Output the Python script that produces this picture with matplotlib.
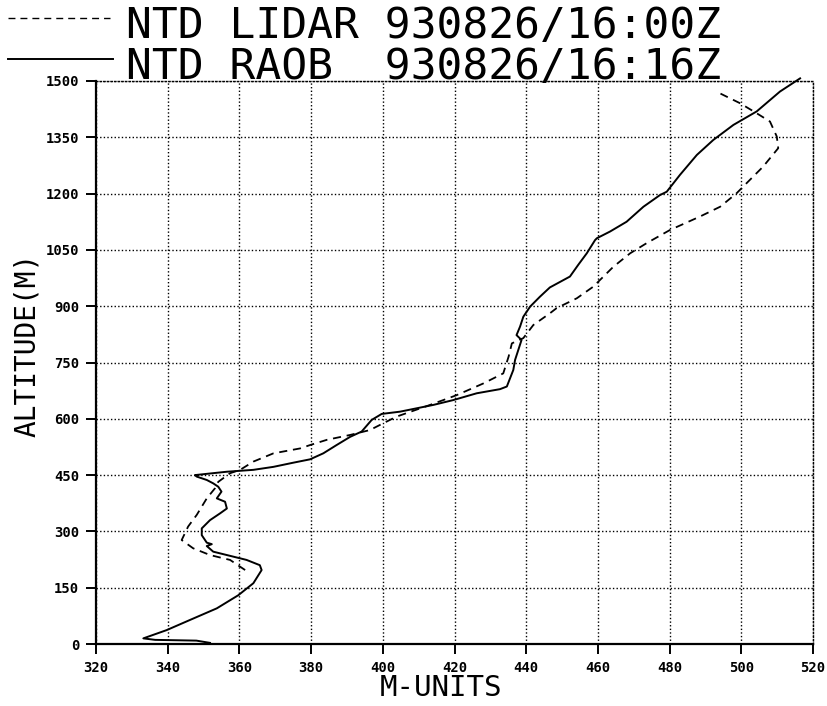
import matplotlib
matplotlib.use("Agg")
import matplotlib.pyplot as plt
from matplotlib.lines import Line2D

# RAOB (solid) profile: M-units vs altitude (m)
raob_m = [351.8, 348.0, 336.5, 333.2, 339.7, 346.2, 353.7, 359.7, 363.9, 366.2, 365.7, 362.0,
          356.5, 352.7, 350.9, 352.3, 350.9, 349.5, 349.5, 351.8, 354.6, 356.5, 356.0, 353.7,
          355.0, 354.1, 352.7, 350.9, 348.1, 347.6, 356.5, 363.9, 369.5, 375.0, 379.7, 383.4,
          387.1, 390.9, 394.1, 396.9, 399.7, 404.8, 414.1, 419.7, 426.2, 432.7, 434.6, 436.4,
          436.9, 438.7, 437.3, 438.3, 439.2, 441.1, 443.8, 446.6, 452.2, 454.5, 456.9, 459.2,
          459.7, 463.4, 468.0, 472.7, 477.3, 479.2, 482.9, 487.6, 492.2, 497.8, 504.3, 510.8,
          516.4]
raob_alt = [3, 9, 11, 15, 37, 64, 95, 130, 162, 197, 210, 224,
            237, 246, 261, 266, 270, 290, 308, 330, 348, 361, 379, 388,
            406, 419, 428, 437, 446, 450, 459, 464, 472, 483, 492, 508,
            530, 552, 566, 597, 613, 619, 637, 650, 668, 679, 686, 730,
            757, 810, 823, 846, 872, 899, 925, 950, 979, 1010, 1041, 1076,
            1081, 1099, 1125, 1165, 1196, 1205, 1250, 1303, 1343, 1383, 1419, 1472,
            1507]

# LIDAR (dashed) profile
lidar_m = [361.6, 357.4, 351.8, 347.1, 343.9, 345.7, 348.1, 350.9, 353.2, 354.1, 357.4, 360.2,
           363.9, 369.5, 376.9, 379.7, 384.4, 390.9, 396.4, 400.1, 403.9, 413.2, 420.6, 428.0,
           433.6, 435.1, 436.0, 439.2, 442.0, 446.6, 448.5, 454.1, 458.7, 464.3, 469.0, 473.6,
           480.1, 488.5, 494.1, 498.7, 501.5, 506.1, 510.3, 509.9, 508.0, 504.3, 499.6, 493.0]
lidar_alt = [197, 224, 237, 255, 277, 313, 344, 388, 415, 432, 455, 464,
             486, 508, 521, 530, 544, 557, 570, 588, 606, 637, 663, 694,
             721, 766, 801, 815, 850, 881, 895, 921, 952, 1005, 1041, 1068,
             1103, 1139, 1165, 1201, 1228, 1272, 1321, 1352, 1392, 1414, 1441, 1472]

xticks = list(range(320, 521, 20))
yticks = list(range(0, 1501, 150))
title_lidar = "NTD LIDAR 930826/16:00Z"
title_raob = "NTD RAOB  930826/16:16Z"

fig = plt.figure(figsize=(8.28, 7.06), dpi=100)
ax = fig.add_axes([96/828, 62/706, 717/828, 563/706])

ax.plot(raob_m, raob_alt, color="black", lw=1.4, clip_on=False)
ax.plot(lidar_m, lidar_alt, color="black", lw=1.3, linestyle=(0, (4.5, 3.2)))

ax.set_xlim(320, 520)
ax.set_ylim(0, 1500)
ax.set_xticks(xticks)
ax.set_yticks(yticks)
ax.grid(True, color="black", linestyle=(0, (1, 1.6)), linewidth=1.0)
for side in ["top", "right"]:
    ax.spines[side].set_linestyle((0, (1, 1.6)))
    ax.spines[side].set_linewidth(1.0)
for side in ["left", "bottom"]:
    ax.spines[side].set_linewidth(1.6)
ax.tick_params(direction="out", length=7, width=1.4, labelsize=10, pad=5)
for lab in ax.get_xticklabels() + ax.get_yticklabels():
    lab.set_fontfamily("DejaVu Sans Mono")
    lab.set_fontweight("bold")

ax.set_xlabel("M-UNITS", fontsize=21, family="DejaVu Sans Mono")
ax.set_ylabel("ALTITUDE(M)", fontsize=20, family="DejaVu Sans Mono")
ax.xaxis.set_label_coords((441 - 96) / 717, (644 - 674) / 563)
ax.yaxis.set_label_coords((41 - 96) / 717, (644 - 345) / 563)

fig.text(126/828, 1 - 38/706, title_lidar, fontsize=31, family="DejaVu Sans Mono",
         va="baseline", ha="left")
fig.text(126/828, 1 - 79/706, title_raob, fontsize=31, family="DejaVu Sans Mono",
         va="baseline", ha="left")
fig.add_artist(Line2D([8/828, 110/828], [1 - 18/706, 1 - 18/706], color="black", lw=1.0,
                      linestyle=(0, (5, 3.6))))
fig.add_artist(Line2D([8/828, 113/828], [1 - 59/706, 1 - 59/706], color="black", lw=1.4))

fig.savefig("out.png", dpi=100)
